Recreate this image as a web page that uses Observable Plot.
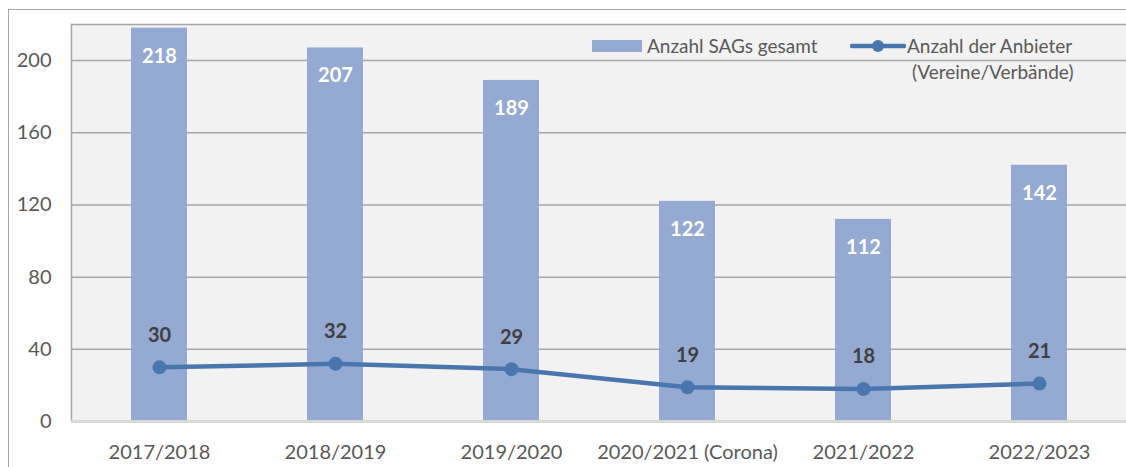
<!DOCTYPE html>
<html>
<head>
<meta charset="utf-8">
<script src="https://cdn.jsdelivr.net/npm/d3@7"></script>
<script src="https://cdn.jsdelivr.net/npm/@observablehq/plot@0.6"></script>
<style>
  html, body { margin: 0; padding: 0; background: #fff; overflow: hidden; }
  #wrap { position: relative; width: 1126px; height: 467px; overflow: hidden; font-family: Lato, "Open Sans", sans-serif; }
  #outer { position: absolute; left: 8px; top: 9px; width: 2000px; height: 2000px; border: 1.5px solid #A6A6A6; box-sizing: border-box; }
  #chart { position: absolute; left: 0; top: 0; }
  .legend { position: absolute; font-size: 19px; color: #595959; line-height: 22px; white-space: nowrap; }
</style>
</head>
<body>
<div id="wrap">
  <div id="outer"></div>
  <div id="chart"></div>
  <div class="legend" style="left:592px; top:35px; display:flex; align-items:center;">
    <svg width="50" height="12" style="margin-right:5px"><rect width="50" height="12" fill="#95AAD2"></rect></svg>
    <span>Anzahl SAGs gesamt</span>
  </div>
  <div class="legend" style="left:850px; top:35px;">
    <div style="display:flex; align-items:center;">
      <svg width="56" height="14" style="margin-right:1px"><line x1="2" y1="7" x2="54" y2="7" stroke="#4A76AE" stroke-width="4.5" stroke-linecap="round"></line><circle cx="28" cy="7" r="6" fill="#4A76AE"></circle></svg>
      <span>Anzahl der Anbieter</span>
    </div>
    <div style="padding-left:62px; margin-top:4px;">(Vereine/Verbände)</div>
  </div>
</div>
<script>
const categories = ["2017/2018", "2018/2019", "2019/2020", "2020/2021 (Corona)", "2021/2022", "2022/2023"];
const sagsTotal = [218, 207, 189, 122, 112, 142];
const providers = [30, 32, 29, 19, 18, 21];
const yTicks = [0, 40, 80, 120, 160, 200];
const gridValues = [40, 80, 120, 160, 200];

const rows = categories.map((c, i) => ({cat: c, sags: sagsTotal[i], prov: providers[i]}));

const barColor = "#95AAD2";
const lineColor = "#4A76AE";

const chart = Plot.plot({
  width: 1126,
  height: 467,
  marginLeft: 71,
  marginRight: -2,
  marginTop: 24,
  marginBottom: 46,
  style: {fontFamily: "Lato, 'Open Sans', sans-serif", background: "transparent", color: "#595959", overflow: "hidden"},
  x: {domain: categories, paddingInner: 0.68, paddingOuter: 0.34, label: null},
  y: {domain: [0, 220], label: null},
  marks: [
    Plot.frame({fill: "#F2F2F2", stroke: "none"}),
    Plot.frame({anchor: "top", stroke: "#A6A6A6", strokeWidth: 1.5}),
    Plot.frame({anchor: "left", stroke: "#A6A6A6", strokeWidth: 1.5}),
    Plot.ruleY(gridValues, {stroke: "#A6A6A6", strokeWidth: 1.5}),
    Plot.barY(rows, {x: "cat", y: "sags", fill: barColor}),
    Plot.ruleY([0], {stroke: "#D9D9D9", strokeWidth: 3}),
    Plot.axisY({ticks: yTicks, tickSize: 0, tickPadding: 20, fontSize: 20, fill: "#595959", label: null}),
    Plot.axisX({tickSize: 0, tickPadding: 23, fontSize: 20, fill: "#595959", label: null}),
    Plot.line(rows, {x: "cat", y: "prov", stroke: lineColor, strokeWidth: 4.5}),
    Plot.dot(rows, {x: "cat", y: "prov", r: 7, fill: lineColor}),
    Plot.text(rows, {x: "cat", y: "sags", text: d => String(d.sags), dy: 28, fill: "#fff", fontWeight: "bold", fontSize: 20}),
    Plot.text(rows, {x: "cat", y: "prov", text: d => String(d.prov), dy: -32, fill: "#404040", fontWeight: "bold", fontSize: 20})
  ]
});
document.getElementById("chart").appendChild(chart);
</script>
</body>
</html>
